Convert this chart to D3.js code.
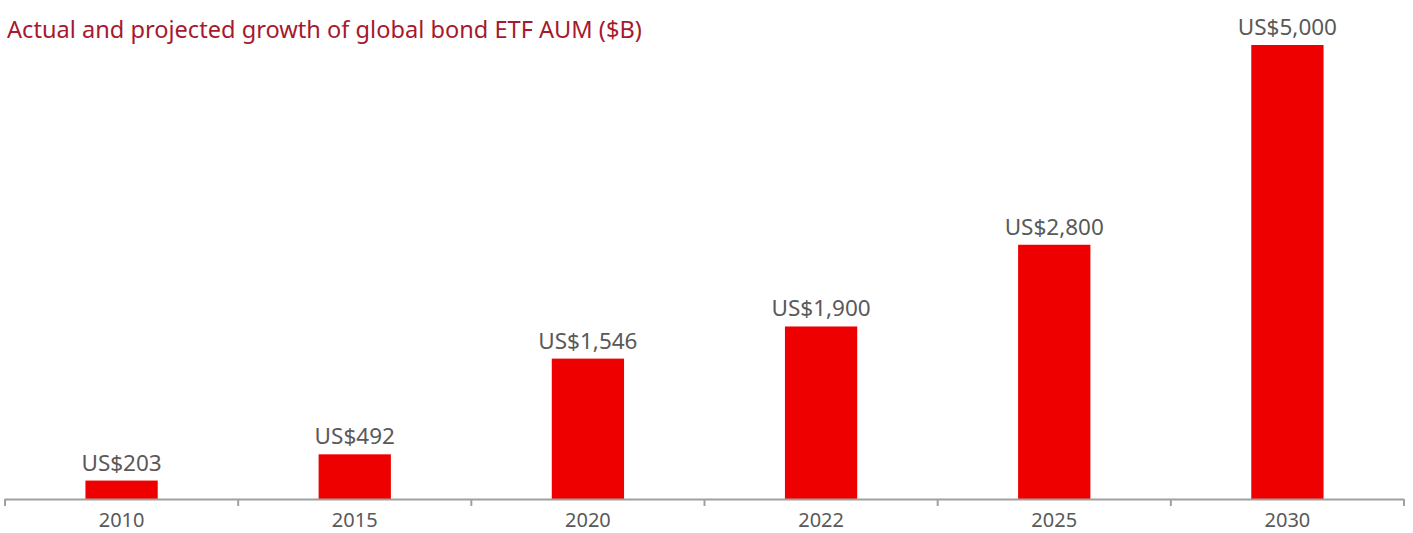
<!DOCTYPE html>
<html><head><meta charset="utf-8">
<script src="https://cdn.jsdelivr.net/npm/d3@7"></script>
<style>body{margin:0;background:#fff;}svg{display:block;}</style>
</head><body>
<svg id="c" width="1413" height="533"></svg>
<script>
const categories = ["2010","2015","2020","2022","2025","2030"];
const values = [203, 492, 1546, 1900, 2800, 5000];
const labels = ["US$203","US$492","US$1,546","US$1,900","US$2,800","US$5,000"];
const title = "Actual and projected growth of global bond ETF AUM ($B)";

const svg = d3.select("#c");
const font = "'Noto Sans', sans-serif";
const x = d3.scaleBand().domain(categories).range([5, 1404]).paddingInner(0.69).paddingOuter(0.345);
const y = d3.scaleLinear().domain([0, 5000]).range([499, 45]);

svg.append("text").attr("x", 7).attr("y", 38).attr("fill", "#A6192E")
  .attr("font-family", font).attr("font-size", 23.6).text(title);

svg.selectAll("rect.bar").data(values).join("rect").attr("class","bar")
  .attr("x", (d,i)=>x(categories[i])).attr("width", x.bandwidth())
  .attr("y", d=>y(d)).attr("height", d=>y(0)-y(d)).attr("fill", "#EE0000");

svg.selectAll("text.lbl").data(values).join("text").attr("class","lbl")
  .attr("x", (d,i)=>x(categories[i]) + x.bandwidth()/2).attr("y", d=>y(d)-10)
  .attr("text-anchor","middle").attr("fill","#595959").attr("font-family", font)
  .attr("font-size", 22.5).text((d,i)=>labels[i]);

// axis
const edges = d3.range(categories.length+1).map(i => 5 + i*(1399/categories.length));
const g = svg.append("g");
g.append("line").attr("x1",5).attr("x2",1404).attr("y1",499.5).attr("y2",499.5)
  .attr("stroke","#A0A0A0").attr("stroke-width",2);
g.selectAll("line.tk").data(edges).join("line").attr("class","tk")
  .attr("x1",d=>d).attr("x2",d=>d).attr("y1",499).attr("y2",506)
  .attr("stroke","#A0A0A0").attr("stroke-width",2);
g.selectAll("text.tl").data(categories).join("text").attr("class","tl")
  .attr("x", d=>x(d)+x.bandwidth()/2).attr("y", 527).attr("text-anchor","middle")
  .attr("fill","#595959").attr("font-family", font).attr("font-size", 20).text(d=>d);
</script>
</body></html>
